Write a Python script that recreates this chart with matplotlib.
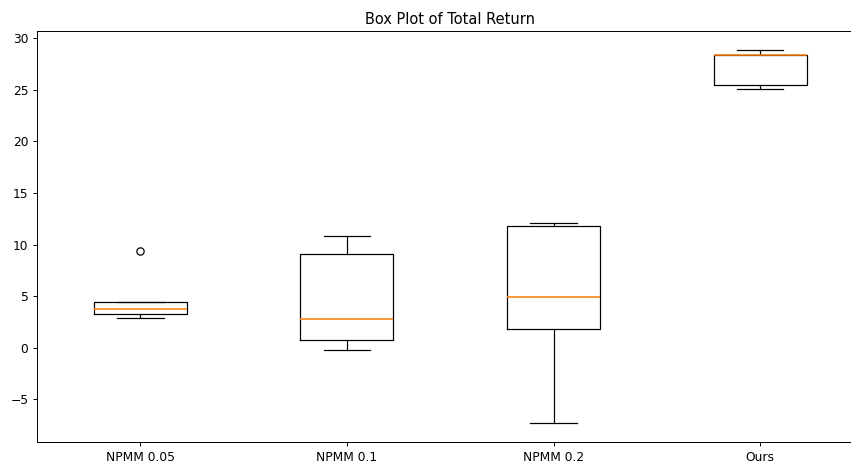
import matplotlib
matplotlib.use("Agg")
import matplotlib.pyplot as plt

# box statistics
labels = ["NPMM 0.05", "NPMM 0.1", "NPMM 0.2", "Ours"]
whislo = [2.88, -0.26, -7.33, 25.10]
q1 = [3.30, 0.71, 1.85, 25.49]
medians = [3.79, 2.82, 4.89, 28.38]
q3 = [4.40, 9.13, 11.76, 28.41]
whishi = [4.40, 10.88, 12.05, 28.90]
fliers = [[9.39], [], [], []]

stats = []
for i, lab in enumerate(labels):
    stats.append(dict(label=lab, whislo=whislo[i], q1=q1[i], med=medians[i],
                      q3=q3[i], whishi=whishi[i], fliers=fliers[i]))

W, H = 851, 462
DPI = 88  # reference looks like a larger figure scaled down
fig = plt.figure(figsize=(W / DPI, H / DPI), dpi=DPI)
# the reference is cropped on the right, so the axes run past the figure edge
ax = fig.add_axes([37 / W, 20 / H, (863.5 - 37) / W, (442 - 31) / H])
ax.bxp(stats, medianprops=dict(color="#ff7f0e", linewidth=1.3))
ax.set_title("Box Plot of Total Return")
fig.savefig("out.png", dpi=DPI)
